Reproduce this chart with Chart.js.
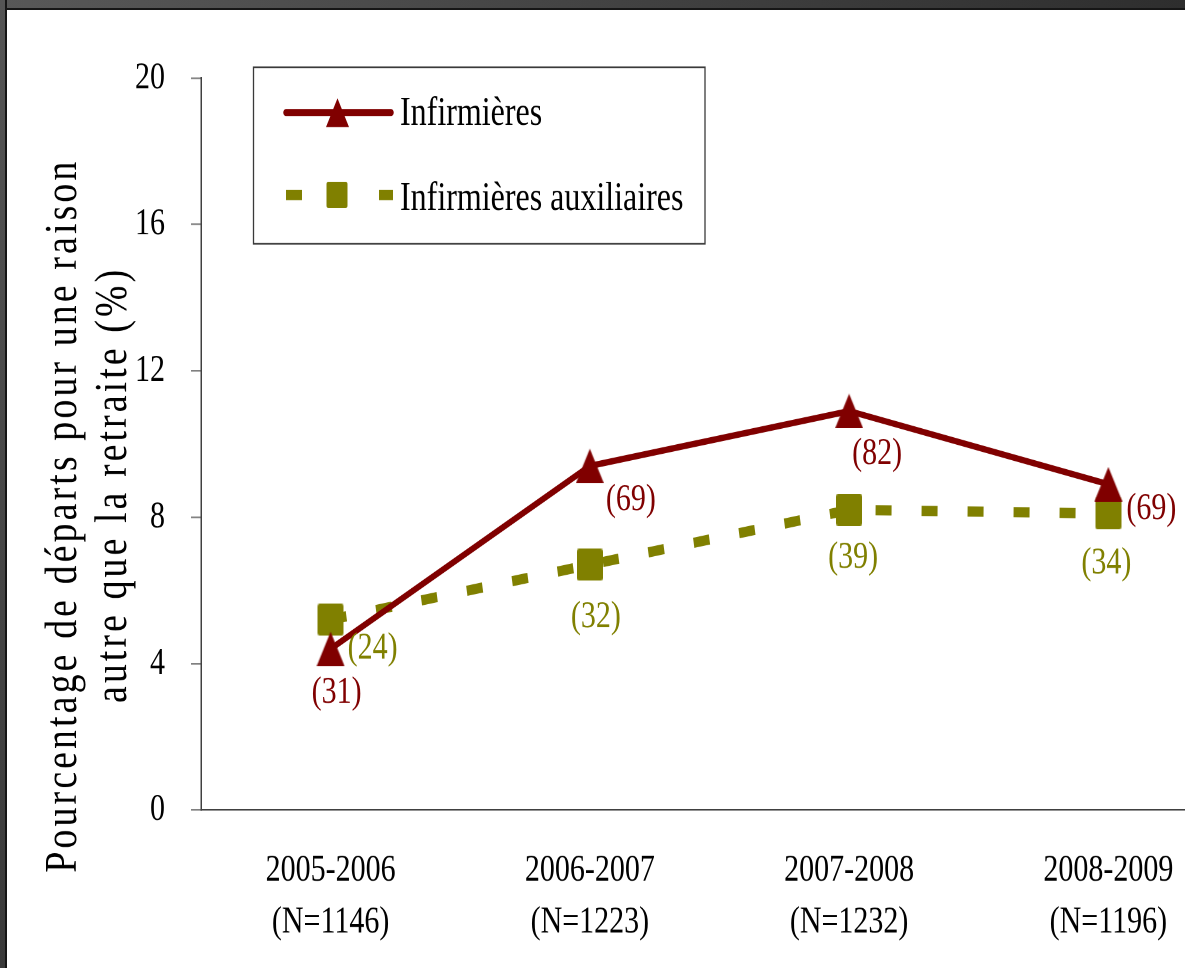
<!DOCTYPE html>
<html lang="fr">
<head>
<meta charset="utf-8">
<title>Départs pour une raison autre que la retraite</title>
<script src="https://cdn.jsdelivr.net/npm/chart.js@4.4.1/dist/chart.umd.min.js"></script>
<style>
  html, body { margin: 0; padding: 0; overflow: hidden; background: #fff; }
  #page { position: relative; width: 1185px; height: 968px; overflow: hidden; background: #fff; }
  /* the reference is stretched vertically, so the whole chart is drawn a bit flatter then scaled */
  #stretch { position: absolute; left: 0; top: 0; width: 1245px; height: 756px; transform: scaleY(1.28); transform-origin: 0 0; }
  #frameTop { position: absolute; left: 0; top: 0; width: 1185px; height: 8px; background: linear-gradient(to right, #585858, #2e2e2e); border-bottom: 2px solid #161616; }
  #frameLeft { position: absolute; left: 0; top: 0; width: 5px; height: 968px; background: linear-gradient(to bottom, #555, #3a3a3a); border-right: 2px solid #161616; }
</style>
</head>
<body>
<div id="page">
  <div id="stretch"><canvas id="departsChart"></canvas></div>
  <div id="frameTop"></div>
  <div id="frameLeft"></div>
</div>
<script>
const periods = ["2005-2006", "2006-2007", "2007-2008", "2008-2009"];
const sampleSizes = [1146, 1223, 1232, 1196];

const infirmieres = [4.4, 9.4, 10.9, 8.9];
const auxiliaires = [5.2, 6.7, 8.2, 8.1];

const infCounts = [31, 69, 82, 69];
const auxCounts = [24, 32, 39, 34];

const yMin = 0;
const yMax = 20;
const yStep = 4;

const RED = "#800000";
const OLIVE = "#808000";
const SERIF = "'Liberation Serif', 'Times New Roman', serif";
const STRETCH = 1.28;

// label offsets from each point (canvas units, before stretch)
const infLabelOffsets = [[6, 34], [41, 26.5], [28, 33.6], [43, 19.5]];
const auxLabelOffsets = [[42, 22.6], [6, 41], [4, 37.5], [-2, 39]];

function makeTriangle(color, w, h) {
  const c = document.createElement("canvas");
  c.width = w;
  c.height = h;
  const g = c.getContext("2d");
  g.fillStyle = color;
  g.beginPath();
  g.moveTo(w / 2, 0);
  g.lineTo(w, h);
  g.lineTo(0, h);
  g.closePath();
  g.fill();
  return c;
}

function makeSquare(color, w, h) {
  const c = document.createElement("canvas");
  c.width = w;
  c.height = h;
  const g = c.getContext("2d");
  g.fillStyle = color;
  g.beginPath();
  g.roundRect(0, 0, w, h, 2);
  g.fill();
  return c;
}

function drawTriangle(ctx, x, y, w, h, color) {
  ctx.fillStyle = color;
  ctx.beginPath();
  ctx.moveTo(x, y - h / 2);
  ctx.lineTo(x + w / 2, y + h / 2);
  ctx.lineTo(x - w / 2, y + h / 2);
  ctx.closePath();
  ctx.fill();
}

const labels = periods.map((p, i) => [p, "(N=" + sampleSizes[i] + ")"]);

const pointLabels = {
  id: "pointLabels",
  afterDatasetsDraw(chart) {
    const ctx = chart.ctx;
    const sets = [
      { counts: infCounts, offsets: infLabelOffsets, color: RED },
      { counts: auxCounts, offsets: auxLabelOffsets, color: OLIVE }
    ];
    ctx.save();
    ctx.font = "30px " + SERIF;
    ctx.textAlign = "center";
    ctx.textBaseline = "middle";
    sets.forEach((s, di) => {
      const meta = chart.getDatasetMeta(di);
      ctx.fillStyle = s.color;
      meta.data.forEach((pt, i) => {
        ctx.fillText("(" + s.counts[i] + ")", pt.x + s.offsets[i][0], pt.y + s.offsets[i][1]);
      });
    });
    ctx.restore();
  }
};

const legendBox = {
  id: "legendBox",
  afterDraw(chart) {
    const ctx = chart.ctx;
    ctx.save();
    ctx.strokeStyle = "#3a3a3a";
    ctx.lineWidth = 1.3;
    ctx.strokeRect(253.5, 52.5, 451.5, 138);

    ctx.strokeStyle = RED;
    ctx.lineWidth = 5.5;
    ctx.lineCap = "round";
    ctx.beginPath();
    ctx.moveTo(286, 87.9);
    ctx.lineTo(391, 87.9);
    ctx.stroke();
    drawTriangle(ctx, 337.5, 88, 23, 22.6, RED);

    ctx.fillStyle = OLIVE;
    ctx.fillRect(286, 148.4, 16, 8);
    ctx.fillRect(379, 148.4, 14, 8);
    ctx.beginPath();
    ctx.roundRect(326.5, 142, 21, 20.5, 2);
    ctx.fill();

    ctx.fillStyle = "#000";
    ctx.font = "32px " + SERIF;
    ctx.textAlign = "left";
    ctx.textBaseline = "alphabetic";
    ctx.fillText("Infirmières", 400, 97.7);
    ctx.fillText("Infirmières auxiliaires", 400, 164);
    ctx.restore();
  }
};

// rotated axis title, spread out letter by letter like the original
const yTitle = {
  id: "yTitle",
  afterDraw(chart) {
    const ctx = chart.ctx;
    const lines = [
      { text: "Pourcentage de départs pour une raison", x: 76, y: 404, len: 711 },
      { text: "autre que la retraite (%)", x: 126, y: 380, len: 433 }
    ];
    const squeeze = 0.64;
    ctx.save();
    ctx.fillStyle = "#000";
    ctx.font = "46px " + SERIF;
    ctx.textAlign = "left";
    ctx.textBaseline = "alphabetic";
    lines.forEach((l) => {
      const chars = Array.from(l.text);
      const widths = chars.map((c) => ctx.measureText(c).width * squeeze);
      const total = l.len / STRETCH;
      const sum = widths.reduce((a, b) => a + b, 0);
      const gap = (total - sum) / (chars.length - 1);
      ctx.save();
      ctx.translate(l.x, l.y);
      ctx.rotate(-Math.PI / 2);
      let pos = -total / 2;
      chars.forEach((c, i) => {
        ctx.save();
        ctx.translate(pos, 0);
        ctx.scale(squeeze, 1);
        ctx.fillText(c, 0, 0);
        ctx.restore();
        pos += widths[i] + gap;
      });
      ctx.restore();
    });
    ctx.restore();
  }
};

const ctx = document.getElementById("departsChart").getContext("2d");

const chart = new Chart(ctx, {
  type: "line",
  data: {
    labels: labels,
    datasets: [
      {
        label: "Infirmières",
        data: infirmieres,
        borderColor: RED,
        backgroundColor: RED,
        borderWidth: 5,
        tension: 0,
        fill: false,
        pointStyle: makeTriangle(RED, 28, 27),
        pointRadius: 14
      },
      {
        label: "Infirmières auxiliaires",
        data: auxiliaires,
        borderColor: OLIVE,
        backgroundColor: OLIVE,
        borderWidth: 8,
        borderDash: [16, 30],
        borderCapStyle: "butt",
        tension: 0,
        fill: false,
        pointStyle: makeSquare(OLIVE, 26, 25),
        pointRadius: 14
      }
    ]
  },
  options: {
    responsive: true,
    maintainAspectRatio: false,
    animation: false,
    devicePixelRatio: 2,
    layout: {
      autoPadding: false,
      padding: { top: 60.9, right: 7, bottom: 0, left: 0 }
    },
    plugins: {
      legend: { display: false },
      tooltip: { enabled: false }
    },
    scales: {
      x: {
        offset: true,
        grid: { display: false, drawTicks: false },
        border: { display: true, color: "#404040", width: 1.2 },
        ticks: {
          color: "#000",
          font: { family: SERIF, size: 30, lineHeight: 1.35 },
          padding: 27,
          maxRotation: 0,
          autoSkip: false
        },
        afterFit(scale) { scale.height = 123.2; }
      },
      y: {
        min: yMin,
        max: yMax,
        ticks: {
          stepSize: yStep,
          color: "#000",
          font: { family: SERIF, size: 30 },
          padding: 26
        },
        grid: { drawOnChartArea: false, drawTicks: true, tickLength: 10, color: "#808080", lineWidth: 1.3 },
        border: { display: true, color: "#404040", width: 1.5 },
        afterFit(scale) { scale.width = 201; }
      }
    }
  },
  plugins: [pointLabels, legendBox, yTitle]
});
</script>
</body>
</html>
